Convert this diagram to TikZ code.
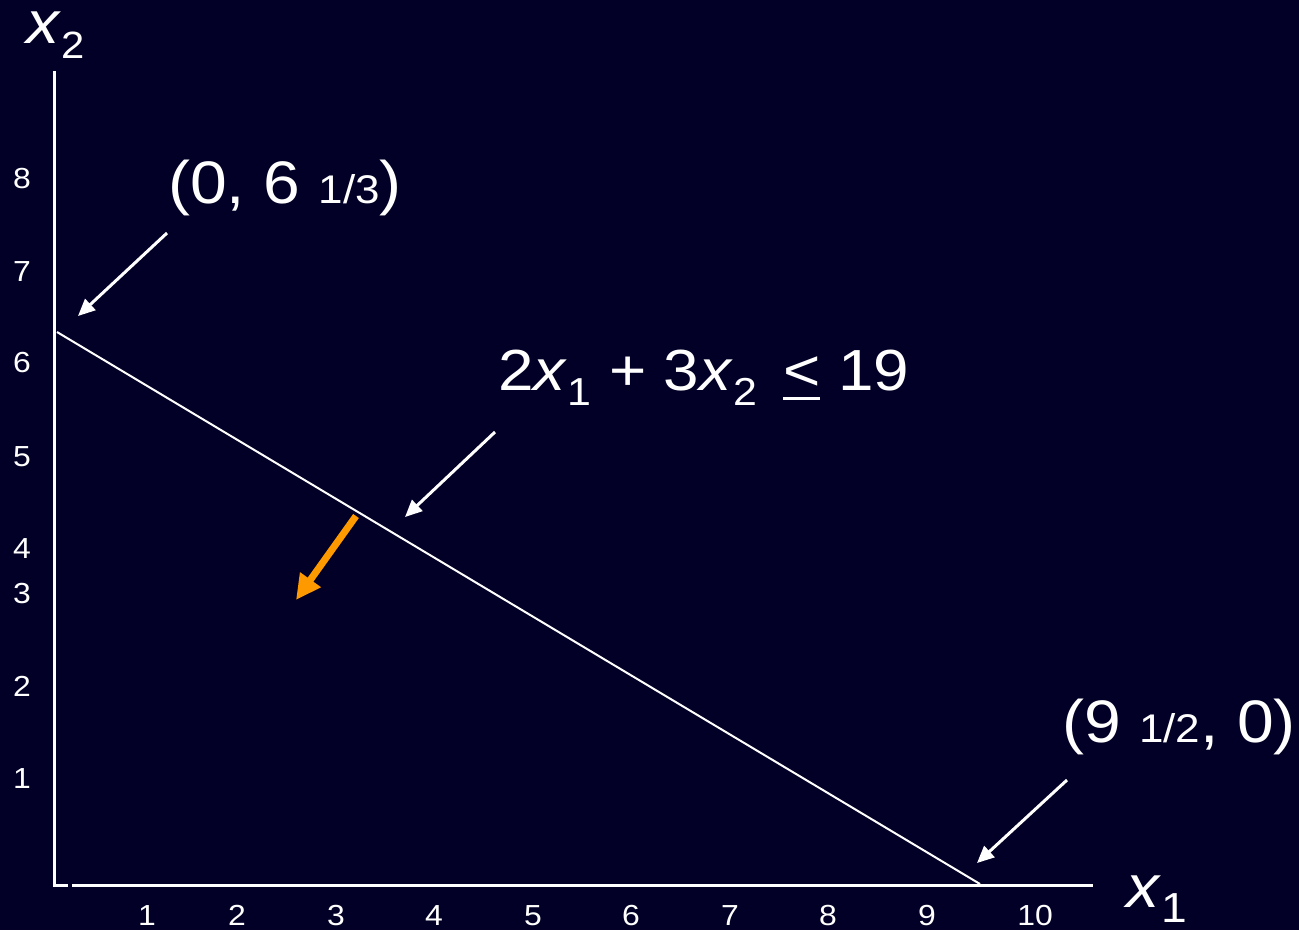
\documentclass[tikz,border=0pt]{standalone}
\usepackage{fontspec}
\setmainfont[FakeStretch=1.1]{Liberation Sans}
\usetikzlibrary{arrows.meta}
\definecolor{bg}{RGB}{2,0,38}
\definecolor{orng}{RGB}{255,153,0}
\newcommand\fs[1]{\fontsize{#1}{#1}\selectfont}
\newcommand\lequnder{\sbox0{<}\rlap{\rule[-10pt]{\wd0}{3pt}}\usebox0}
\begin{document}
\begin{tikzpicture}[x=1pt,y=-1pt,
  axis/.style={draw=white,line width=3pt},
  cline/.style={draw=white,line width=2pt},
  callout/.style={draw=white,line width=3pt,-{Triangle[length=17pt,width=15pt]}},
  feas/.style={draw=orng,line width=7pt,-{Triangle[length=25pt,width=24pt]}},
  big/.style={text=white,inner sep=0pt,font={\fs{60}},anchor=base west},
  tick/.style={text=white,inner sep=0pt,font={\fs{29}},anchor=base}]
\useasboundingbox (0,0) rectangle (1299,930);
\fill[bg] (0,0) rectangle (1299,930);
% axes
\coordinate (o) at (54,885);
\coordinate (ytop) at (54,71);
\coordinate (oe) at (68,885);
\coordinate (xs) at (72,885);
\coordinate (xe) at (1093,885);
\draw[axis] (ytop) -- (o) -- (oe);
\draw[axis] (xs) -- (xe);
% constraint line
\coordinate (A) at (57,332);
\coordinate (B) at (980,884);
\draw[cline] (A) -- (B);
% callout arrows
\coordinate (a1s) at (167,233); \coordinate (a1e) at (78,316);
\coordinate (a2s) at (495,432); \coordinate (a2e) at (405,517);
\coordinate (a3s) at (1067,780); \coordinate (a3e) at (977,863);
\coordinate (a4s) at (356,516); \coordinate (a4e) at (296,600);
\draw[callout] (a1s) -- (a1e);
\draw[callout] (a2s) -- (a2e);
\draw[callout] (a3s) -- (a3e);
\draw[feas] (a4s) -- (a4e);
% labels
\node[big] (p1) at (168,203) {(0, 6 {\fs{40}1/3})};
\node[big] (p2) at (1062,742) {(9 {\fs{40}1/2}, 0)};
\node[big,font={\fs{58}}] (eq) at (498,390) {2\textit{x}\raisebox{-15pt}{\fs{39}1} + 3\textit{x}\raisebox{-15pt}{\fs{39}2}\hspace{26pt}\lequnder\ 19};
\node[big] (x1) at (1126,907) {\textit{x}\raisebox{-15pt}{\fs{42}1}};
\node[big] (x2) at (26,43) {\smash{\textit{x}\raisebox{-15pt}{\fs{38}2}}};
% y ticks
\node[tick] (y8) at (22,188) {8};
\node[tick] (y7) at (22,281) {7};
\node[tick] (y6) at (22,372) {6};
\node[tick] (y5) at (22,466) {5};
\node[tick] (y4) at (22,558) {4};
\node[tick] (y3) at (22,603) {3};
\node[tick] (y2) at (22,696) {2};
\node[tick] (y1) at (22,788) {1};
% x ticks
\node[tick] (t1) at (147,925) {1};
\node[tick] (t2) at (237,925) {2};
\node[tick] (t3) at (336,925) {3};
\node[tick] (t4) at (434,925) {4};
\node[tick] (t5) at (533,925) {5};
\node[tick] (t6) at (631,925) {6};
\node[tick] (t7) at (730,925) {7};
\node[tick] (t8) at (828,925) {8};
\node[tick] (t9) at (927,925) {9};
\node[tick] (t10) at (1035,925) {10};
\end{tikzpicture}
\end{document}
